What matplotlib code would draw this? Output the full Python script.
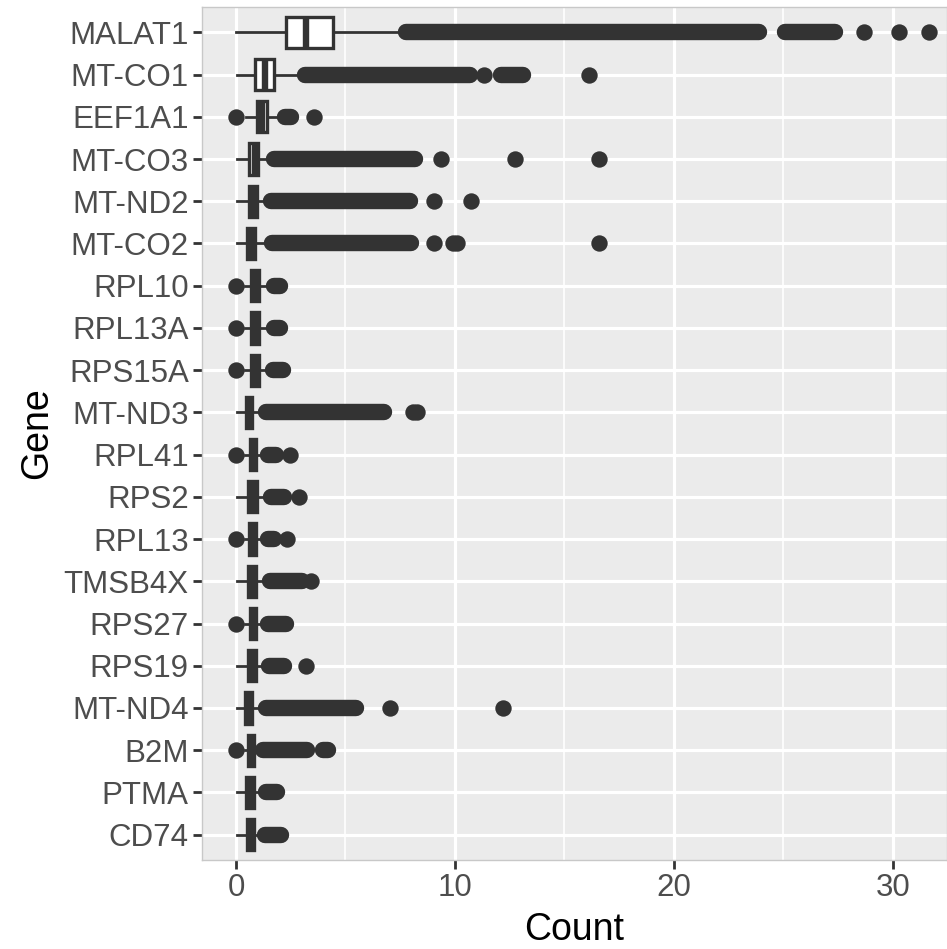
import numpy as np
import matplotlib
matplotlib.use("Agg")
from matplotlib import pyplot as plt
from matplotlib.ticker import MultipleLocator

plt.rcParams['font.family'] = ['Liberation Sans', 'DejaVu Sans']

# genes, top to bottom
genes = ["MALAT1", "MT-CO1", "EEF1A1", "MT-CO3", "MT-ND2", "MT-CO2", "RPL10",
         "RPL13A", "RPS15A", "MT-ND3", "RPL41", "RPS2", "RPL13", "TMSB4X",
         "RPS27", "RPS19", "MT-ND4", "B2M", "PTMA", "CD74"]

# box statistics
whislo = [0.0, 0.05, 0.45, 0.05, 0.05, 0.05, 0.4, 0.4, 0.4, 0.05,
          0.4, 0.05, 0.4, 0.05, 0.4, 0.05, 0.05, 0.4, 0.05, 0.05]
q1 = [2.3, 0.86, 0.98, 0.6, 0.58, 0.5, 0.71, 0.71, 0.71, 0.44,
      0.62, 0.57, 0.58, 0.56, 0.62, 0.56, 0.42, 0.56, 0.47, 0.5]
med = [3.2, 1.33, 1.2, 0.85, 0.82, 0.72, 0.9, 0.9, 0.9, 0.6,
       0.78, 0.78, 0.75, 0.75, 0.77, 0.75, 0.6, 0.7, 0.65, 0.66]
q3 = [4.43, 1.75, 1.41, 1.0, 0.94, 0.88, 1.04, 1.04, 1.04, 0.74,
      0.92, 0.95, 0.92, 0.91, 0.92, 0.91, 0.74, 0.84, 0.82, 0.82]
whishi = [7.6, 2.75, 1.9, 1.5, 1.45, 1.5, 1.5, 1.5, 1.5, 1.2,
          1.35, 1.5, 1.35, 1.45, 1.35, 1.4, 1.2, 1.15, 1.25, 1.2]

# stretches where outliers overlap into a solid band (first, last value)
dense_runs = [[(7.75, 23.9), (25.05, 27.35)],
              [(3.15, 10.67), (12.1, 13.1)],
              [(2.26, 2.5)],
              [(1.72, 8.17)],
              [(1.58, 7.97)],
              [(1.65, 8.0)],
              [(1.73, 2.0)],
              [(1.73, 2.0)],
              [(1.68, 2.14)],
              [(1.35, 6.76)],
              [(1.46, 1.85)],
              [(1.61, 2.2)],
              [(1.46, 1.75)],
              [(1.55, 3.0)],
              [(1.47, 2.29)],
              [(1.5, 2.21)],
              [(1.35, 5.47)],
              [(1.24, 3.24), (3.97, 4.2)],
              [(1.36, 1.87)],
              [(1.31, 2.05)]]

# single outliers
outliers = [[28.7, 30.3, 31.65],
            [11.33, 16.1],
            [0.0, 3.56],
            [9.35, 12.73, 16.56],
            [9.06, 10.73],
            [9.05, 9.9, 10.1, 16.56],
            [0.0],
            [0.0],
            [0.0],
            [8.1, 8.25],
            [0.0, 2.48],
            [2.87],
            [0.0, 2.33],
            [3.45],
            [0.0],
            [3.21],
            [7.05, 12.2],
            [0.0],
            [],
            []]

dark = "#333333"
fig = plt.figure(figsize=(9.47, 9.49), dpi=100)
ax = fig.add_axes([0.2133, 0.0938, 0.7867, 0.8988])
ax.set_facecolor("#EBEBEB")

pos = np.arange(len(genes), 0, -1)
stats = []
for i, g in enumerate(genes):
    stats.append(dict(label=g, whislo=whislo[i], q1=q1[i], med=med[i],
                      q3=q3[i], whishi=whishi[i], fliers=outliers[i]))

ax.bxp(stats, positions=pos, widths=0.74, orientation='horizontal',
       showcaps=False, patch_artist=True,
       boxprops=dict(facecolor="white", edgecolor=dark, linewidth=2.4),
       medianprops=dict(color=dark, linewidth=4.6, solid_capstyle="butt"),
       whiskerprops=dict(color=dark, linewidth=2.0),
       flierprops=dict(marker="o", markersize=11.8, markerfacecolor=dark,
                       markeredgecolor=dark, markeredgewidth=0),
       zorder=3)

for i, runs in enumerate(dense_runs):
    for a, b in runs:
        ax.plot([a, b], [pos[i], pos[i]], color=dark, linewidth=11.8,
                solid_capstyle="round", zorder=4)

ax.set_xlim(-1.55, 32.47)
ax.set_ylim(0.4, len(genes) + 0.6)
ax.set_yticks(pos)
ax.set_yticklabels(genes)
ax.xaxis.set_major_locator(MultipleLocator(10))
ax.xaxis.set_minor_locator(MultipleLocator(5))

ax.grid(which="major", color="white", linewidth=2.3, zorder=0)
ax.grid(which="minor", axis="x", color="white", linewidth=1.2, zorder=0)
ax.set_axisbelow(True)

ax.tick_params(axis="both", which="major", length=6.5, width=2.0, color=dark,
               labelsize=22.5, labelcolor="#4D4D4D", pad=3)
ax.tick_params(axis="both", which="minor", length=0)
for s in ax.spines.values():
    s.set_color("#C8C8C8")
    s.set_linewidth(1.0)

ax.set_xlabel("Count", fontsize=27, labelpad=6)
ax.set_ylabel("Gene", fontsize=27, labelpad=6)

fig.savefig("out.png", dpi=100)
